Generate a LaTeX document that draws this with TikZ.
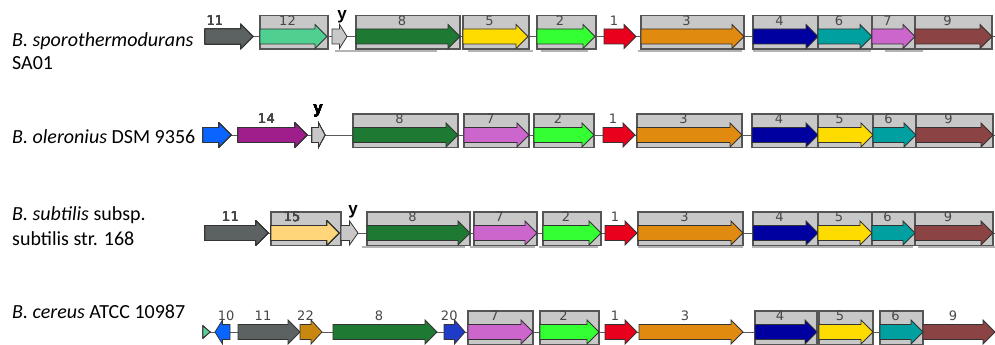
\documentclass[tikz,border=0pt]{standalone}
\usepackage{fontspec}
\setmainfont{Carlito}
\newfontfamily\lblfont{DejaVu Sans}
\newfontfamily\yfont{Liberation Sans}
\definecolor{cA}{HTML}{5C6262}
\definecolor{cB}{HTML}{50D090}
\definecolor{cY}{HTML}{C8C8C8}
\definecolor{cEight}{HTML}{1E7A32}
\definecolor{cFive}{HTML}{FFDC00}
\definecolor{cTwo}{HTML}{33FF33}
\definecolor{cOne}{HTML}{E8001C}
\definecolor{cThree}{HTML}{E08A10}
\definecolor{cFour}{HTML}{0000A0}
\definecolor{cSix}{HTML}{00A0A0}
\definecolor{cSeven}{HTML}{CC66CC}
\definecolor{cNine}{HTML}{8B4343}
\definecolor{cFourteen}{HTML}{A01E8C}
\definecolor{cBlue}{HTML}{0A64FF}
\definecolor{cFifteen}{HTML}{FFD77A}
\definecolor{cTwentyTwo}{HTML}{C8880F}
\definecolor{cTwenty}{HTML}{1E3CC8}
\definecolor{cTiny}{HTML}{5FD09A}
\definecolor{boxfill}{HTML}{C8C8C8}
\definecolor{boxline}{HTML}{555555}
\definecolor{uline}{HTML}{B4B4B4}
\tikzset{
  genestyle/.style={draw=black!80, line width=0.8pt, line join=miter},
  boxstyle/.style={draw=boxline, fill=boxfill, line width=1.1pt},
  backbone/.style={draw=black!65, line width=0.9pt},
  underl/.style={draw=uline, line width=1.4pt},
  genelbl/.style={font=\lblfont\fontsize{13}{14}\selectfont, text=black!72, inner sep=0pt},
  ylbl/.style={font=\yfont\bfseries\fontsize{17}{18}\selectfont, inner sep=0pt},
  species/.style={font=\fontsize{20}{24}\selectfont, anchor=base west, inner sep=0pt},
}
% right-pointing gene: x1, x2, yc, colour, label, name
\newcommand\geneR[6]{%
  \pgfmathsetmacro\hd{min(12,(#2-#1)/2)}%
  \pgfmathsetmacro\xh{#2-\hd}%
  \pgfmathsetmacro\lx{(#1+\xh)/2}%
  \draw[genestyle, fill=#4] (#1,#3-7.5) -- (\xh,#3-7.5) -- (\xh,#3-12) -- (#2,#3) -- (\xh,#3+12) -- (\xh,#3+7.5) -- (#1,#3+7.5) -- cycle;
  \node[genelbl] (#6) at (\lx,#3-16) {#5};
}
% left-pointing gene
\newcommand\geneL[6]{%
  \pgfmathsetmacro\hd{min(12,(#2-#1)/2)}%
  \pgfmathsetmacro\xh{#1+\hd}%
  \pgfmathsetmacro\lx{(\xh+#2)/2}%
  \draw[genestyle, fill=#4] (#2,#3-7.5) -- (\xh,#3-7.5) -- (\xh,#3-12) -- (#1,#3) -- (\xh,#3+12) -- (\xh,#3+7.5) -- (#2,#3+7.5) -- cycle;
  \node[genelbl] (#6) at (\lx,#3-16) {#5};
}
\newcommand\gbox[3]{\draw[boxstyle] (#1,#3-21) rectangle (#2,#3+12.5);}
\begin{document}
\begin{tikzpicture}[x=1pt,y=-1pt]
\useasboundingbox (0,0) rectangle (995,345);
\fill[white] (0,0) rectangle (995,345);

% ---------------- species names
\node[species] (s1a) at (12,47) {\textit{B. sporothermodurans}};
\node[species] (s1b) at (12,70) {SA01};
\node[species] (s2) at (12,143) {\textit{B. oleronius} DSM 9356};
\node[species] (s3a) at (12,220) {\textit{B. subtilis} subsp.};
\node[species] (s3b) at (12,245) {subtilis str. 168};
\node[species] (s4) at (12,318) {\textit{B. cereus} ATCC 10987};

% ---------------- row 1
\def\R{36.5}
\draw[backbone] (205,\R) -- (995,\R);
\foreach \a/\b in {335/437,468/533,541/588,638/742,753/871,885/923}
  \draw[underl] (\a,51) -- (\b,51);
\foreach \a/\b in {260/328,356/460,463/529,537/596,641/744,753/818,818/872,872/915,915/992}
  \gbox{\a}{\b}{\R}
\geneR{205}{253}{\R}{cA}{}{g1k}
\node[genelbl] (g1kl) at (215,\R-16) {11};
\geneR{260}{327}{\R}{cB}{12}{g1l}
\geneR{332}{347}{\R}{cY}{}{g1y}
\node[ylbl] (y1) at (342,17) {y};
\geneR{356}{460}{\R}{cEight}{8}{g1h}
\geneR{463}{528}{\R}{cFive}{5}{g1e}
\geneR{537}{595}{\R}{cTwo}{2}{g1b}
\geneR{604}{636}{\R}{cOne}{1}{g1a}
\geneR{641}{744}{\R}{cThree}{3}{g1c}
\geneR{753}{818}{\R}{cFour}{4}{g1d}
\geneR{818}{872}{\R}{cSix}{6}{g1f}
\geneR{872}{915}{\R}{cSeven}{7}{g1g}
\geneR{915}{992}{\R}{cNine}{9}{g1i}

% ---------------- row 2
\def\R{135}
\draw[backbone] (203,\R) -- (995,\R);
\foreach \a/\b in {353/458,464/529,534/594,637/742,752/818,818/873,873/916,916/993}
  \gbox{\a}{\b}{\R}
\geneR{203}{231}{\R}{cBlue}{}{g2m}
\geneR{238}{307}{\R}{cFourteen}{14}{g2n}
\geneR{312}{325}{\R}{cY}{}{g2y}
\node[ylbl] (y2) at (318,111) {y};
\geneR{353}{458}{\R}{cEight}{8}{g2h}
\geneR{464}{529}{\R}{cSeven}{7}{g2g}
\geneR{534}{594}{\R}{cTwo}{2}{g2b}
\geneR{603}{635}{\R}{cOne}{1}{g2a}
\geneR{637}{742}{\R}{cThree}{3}{g2c}
\geneR{752}{818}{\R}{cFour}{4}{g2d}
\geneR{818}{873}{\R}{cFive}{5}{g2e}
\geneR{873}{916}{\R}{cSix}{6}{g2f}
\geneR{916}{993}{\R}{cNine}{9}{g2i}

% ---------------- row 3
\def\R{233}
\draw[backbone] (205,\R) -- (995,\R);
\foreach \a/\b in {362/465,470/535,539/598,638/743,752/913,918/995}
  \draw[underl] (\a,247) -- (\b,247);
\foreach \a/\b in {271/341,367/470,474/537,543/601,638/743,753/818,818/872,872/915,915/993}
  \gbox{\a}{\b}{\R}
\geneR{205}{268}{\R}{cA}{11}{g3k}
\geneR{271}{339}{\R}{cFifteen}{}{g3o}
\node[genelbl] (g3ol) at (292,\R-16) {15};
\geneR{341}{358}{\R}{cY}{}{g3y}
\node[ylbl] (y3) at (353,212) {y};
\geneR{367}{470}{\R}{cEight}{8}{g3h}
\geneR{474}{537}{\R}{cSeven}{7}{g3g}
\geneR{543}{601}{\R}{cTwo}{2}{g3b}
\geneR{605}{637}{\R}{cOne}{1}{g3a}
\geneR{638}{743}{\R}{cThree}{3}{g3c}
\geneR{753}{818}{\R}{cFour}{4}{g3d}
\geneR{818}{872}{\R}{cFive}{5}{g3e}
\geneR{872}{915}{\R}{cSix}{6}{g3f}
\geneR{915}{993}{\R}{cNine}{9}{g3i}

% ---------------- row 4
\def\R{332}
\draw[backbone] (203,\R) -- (995,\R);
\foreach \a/\b in {468/533,540/599,755/817,819/873,880/923}
  \gbox{\a}{\b}{\R}
\draw[genestyle, fill=cTiny] (203,\R-6) -- (210,\R) -- (203,\R+6) -- cycle;
\geneL{215}{230}{\R}{cBlue}{10}{g4j}
\geneR{238}{300}{\R}{cA}{11}{g4k}
\geneR{300}{322}{\R}{cTwentyTwo}{22}{g4v}
\geneR{333}{437}{\R}{cEight}{8}{g4h}
\geneR{444}{465}{\R}{cTwenty}{20}{g4t}
\geneR{468}{533}{\R}{cSeven}{7}{g4g}
\geneR{540}{599}{\R}{cTwo}{2}{g4b}
\geneR{605}{637}{\R}{cOne}{1}{g4a}
\geneR{639}{743}{\R}{cThree}{3}{g4c}
\geneR{755}{817}{\R}{cFour}{4}{g4d}
\geneR{819}{873}{\R}{cFive}{5}{g4e}
\geneR{880}{923}{\R}{cSix}{6}{g4f}
\geneR{923}{995}{\R}{cNine}{9}{g4i}
\end{tikzpicture}
\end{document}
